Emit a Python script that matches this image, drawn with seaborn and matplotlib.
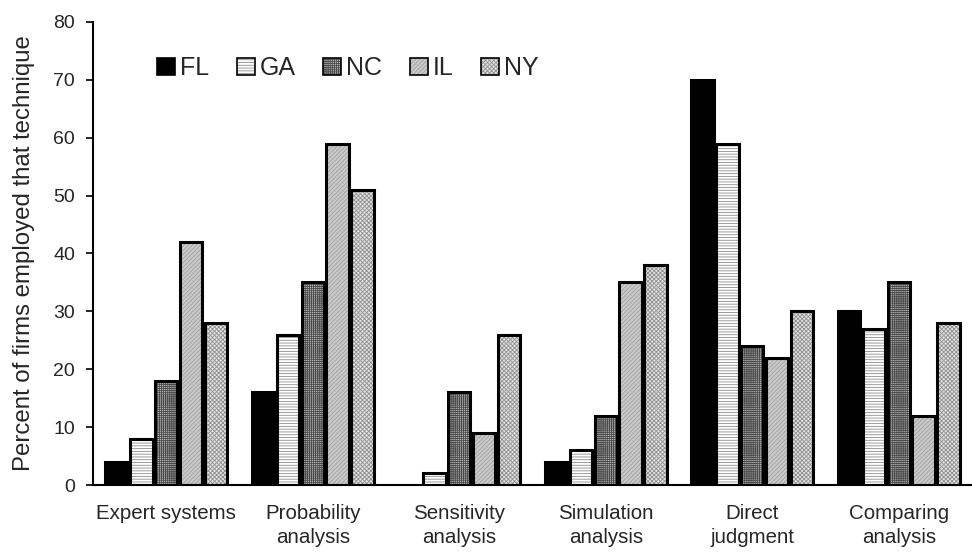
import matplotlib
matplotlib.use("Agg")
import matplotlib.pyplot as plt
import seaborn as sns
import pandas as pd
from matplotlib.patches import Patch
from matplotlib.legend_handler import HandlerTuple

categories = ["Expert systems", "Probability\nanalysis", "Sensitivity\nanalysis",
              "Simulation\nanalysis", "Direct\njudgment", "Comparing\nanalysis"]
states = ["FL", "GA", "NC", "IL", "NY"]
FL = [4, 16, 0, 4, 70, 30]
GA = [8, 26, 2, 6, 59, 27]
NC = [18, 35, 16, 12, 24, 35]
IL = [42, 59, 9, 35, 22, 12]
NY = [28, 51, 26, 38, 30, 28]
yticks = [0, 10, 20, 30, 40, 50, 60, 70, 80]

rows = []
for st, vals in zip(states, [FL, GA, NC, IL, NY]):
    for c, v in zip(categories, vals):
        rows.append({"cat": c, "state": st, "val": v})
df = pd.DataFrame(rows)

faces = {"FL": "#000000", "GA": "#ffffff", "NC": "#b8b8b8", "IL": "#cacaca", "NY": "#e2e2e2"}
hatches = {"FL": "", "GA": "------", "NC": "++++++++", "IL": "////////", "NY": "xxxxxxxx"}
hcolors = {"FL": "#000000", "GA": "#8c8c8c", "NC": "#4a4a4a", "IL": "#a0a0a0", "NY": "#909090"}

sns.set_theme(style="white")
plt.rcParams["font.family"] = ["Liberation Sans", "DejaVu Sans"]
plt.rcParams["hatch.linewidth"] = 0.6

fig = plt.figure(figsize=(9.72, 5.55), dpi=100)
ax = fig.add_axes([93 / 972, 1 - 485 / 555, 1 - 93 / 972, (485 - 22) / 555])

sns.barplot(data=df, x="cat", y="val", hue="state", order=categories, hue_order=states,
            palette=faces, width=0.85, gap=0.1, linewidth=0, edgecolor="#777777", ax=ax,
            legend=False, errorbar=None, saturation=1)
n_cat = len(categories)
for i, p in enumerate(list(ax.patches)):
    st = states[i // n_cat]
    p.set_edgecolor(hcolors[st])
    p.set_hatch(hatches[st])
    p.set_linewidth(0)
sns.barplot(data=df, x="cat", y="val", hue="state", order=categories, hue_order=states,
            fill=False, width=0.85, gap=0.1, linewidth=2.2, edgecolor="black", ax=ax,
            legend=False, errorbar=None)
for p in ax.patches:
    if p.get_height() == 0:
        p.set_visible(False)

ax.set_xlim(-0.5, 5.44)
ax.set_ylim(0, 80)
ax.set_yticks(yticks)
ax.set_yticklabels([str(t) for t in yticks], fontsize=14)
ax.set_xticks(range(n_cat))
ax.set_xticklabels(categories, fontsize=14.8, linespacing=1.3)
ax.set_xticks([i - 0.5 for i in range(n_cat + 1)], minor=True)
ax.tick_params(axis="x", which="major", length=0, pad=14)
ax.tick_params(axis="x", which="minor", length=6, width=1.2, direction="out", color="black")
ax.tick_params(axis="y", length=5, width=1.2, direction="out", color="black", left=True, pad=8)
ax.set_xlabel("")
ax.set_ylabel("Percent of firms employed that technique", fontsize=17.3)
ax.yaxis.set_label_coords(-0.066, 0.5)
for s in ["top", "right"]:
    ax.spines[s].set_visible(False)
for s in ["left", "bottom"]:
    ax.spines[s].set_color("black")
    ax.spines[s].set_linewidth(1.5)

handles = []
for st in states:
    h1 = Patch(facecolor=faces[st], edgecolor=hcolors[st], hatch=hatches[st], linewidth=0)
    h2 = Patch(facecolor="none", edgecolor="black", linewidth=1.2)
    handles.append((h1, h2))
ax.legend(handles, states, handler_map={tuple: HandlerTuple(ndivide=1)}, ncol=5,
          frameon=False, fontsize=18, loc="center left", bbox_to_anchor=(0.0728, 0.9),
          borderpad=0, borderaxespad=0,
          handlelength=0.72, handleheight=0.72, handletextpad=0.2, columnspacing=1.1)

fig.savefig("out.png", dpi=100)
